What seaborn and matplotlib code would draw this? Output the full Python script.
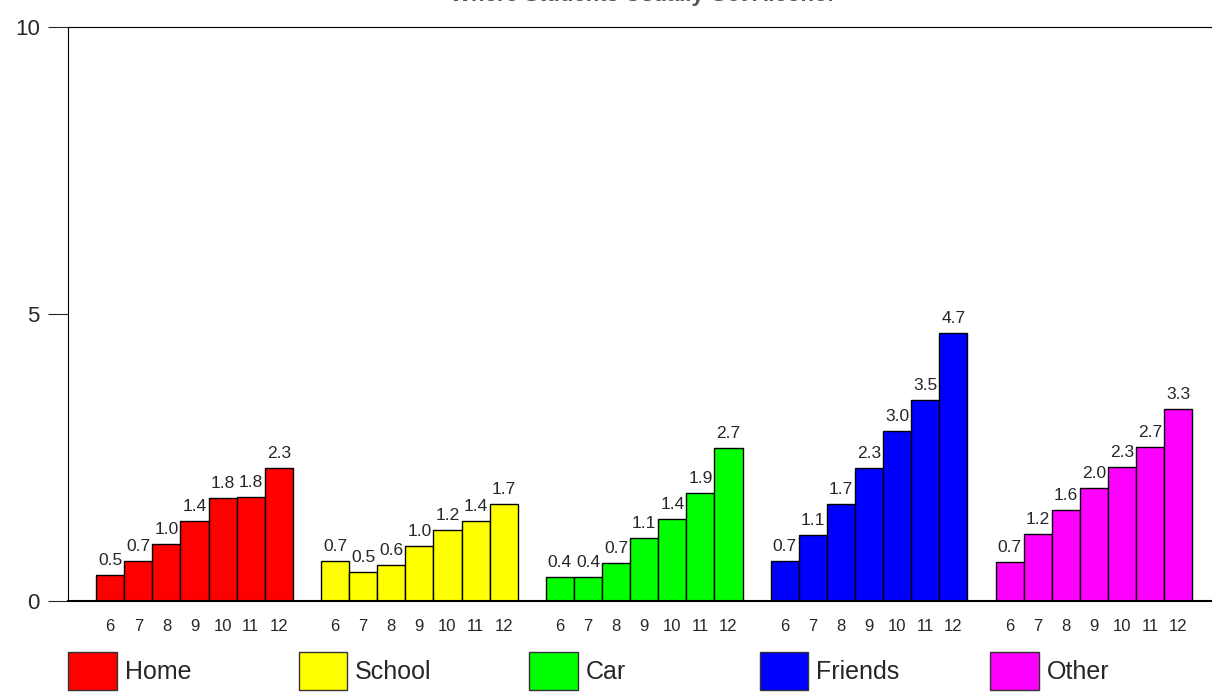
import numpy as np
import pandas as pd
import matplotlib
matplotlib.use("Agg")
import matplotlib.pyplot as plt
from matplotlib.patches import Patch
import seaborn as sns

places = ["Home", "School", "Car", "Friends", "Other"]
grades = ["6", "7", "8", "9", "10", "11", "12"]
colors = ["#ff0000", "#ffff00", "#00ff00", "#0000ff", "#ff00ff"]

home = [0.46, 0.70, 1.00, 1.40, 1.79, 1.81, 2.32]
school = [0.70, 0.51, 0.63, 0.96, 1.24, 1.39, 1.69]
car = [0.42, 0.42, 0.66, 1.10, 1.43, 1.88, 2.67]
friends = [0.70, 1.15, 1.69, 2.32, 2.96, 3.50, 4.67]
other = [0.68, 1.17, 1.59, 1.97, 2.33, 2.68, 3.34]

title = "Where Students Usually Get Alcohol"

series = [home, school, car, friends, other]
rows = []
for g, (place, vals) in enumerate(zip(places, series)):
    for j, (grade, v) in enumerate(zip(grades, vals)):
        rows.append({"place": place, "grade": grade, "value": v,
                     "pos": g * (len(grades) + 1) + j + 1})
df = pd.DataFrame(rows)

sns.set_style("white")
plt.rcParams["font.family"] = ["Liberation Sans", "DejaVu Sans"]

fig = plt.figure(figsize=(12.12, 6.96), dpi=100)
ax = fig.add_axes([68 / 1212, 1 - 601 / 696, 1 - 68 / 1212, (601 - 27) / 696])

sns.barplot(data=df, x="pos", y="value", hue="place", palette=dict(zip(places, colors)),
            native_scale=True, dodge=False, width=1, errorbar=None, saturation=1,
            edgecolor="black", linewidth=1, legend=False, ax=ax)

for c in ax.containers:
    ax.bar_label(c, fmt="%.1f", padding=5, fontsize=12.5)

ax.set_xlim(-0.5, 40.2)
ax.set_ylim(0, 10)
ax.set_yticks([0, 5, 10])
ax.set_xticks(df["pos"], df["grade"])
ax.set_xlabel("")
ax.set_ylabel("")
ax.tick_params(axis="x", length=0, pad=13, labelsize=12)
ax.tick_params(axis="y", length=14.4, width=0.8, direction="out", pad=6, labelsize=16, left=True)

for side in ["left", "top"]:
    ax.spines[side].set_color("black")
    ax.spines[side].set_linewidth(0.8)
ax.spines["bottom"].set_color("black")
ax.spines["bottom"].set_linewidth(1.5)
ax.spines["right"].set_visible(False)

# title sits above the page edge in the original; only its foot shows
fig.text(0.53, 1 - 1.5 / 696, title, ha="center", va="baseline", fontsize=16,
         fontweight="bold", color="#555555")

for i, (place, col) in enumerate(zip(places, colors)):
    fig.legend(handles=[Patch(facecolor=col, edgecolor="#333333", linewidth=1, label=place)],
               loc="center left", bbox_to_anchor=((68 + i * 230.5) / 1212, 1 - 671 / 696),
               frameon=False, borderpad=0, borderaxespad=0, handletextpad=0.32,
               handlelength=1.95, handleheight=2.0, fontsize=18)

fig.savefig("out.png", dpi=100)
